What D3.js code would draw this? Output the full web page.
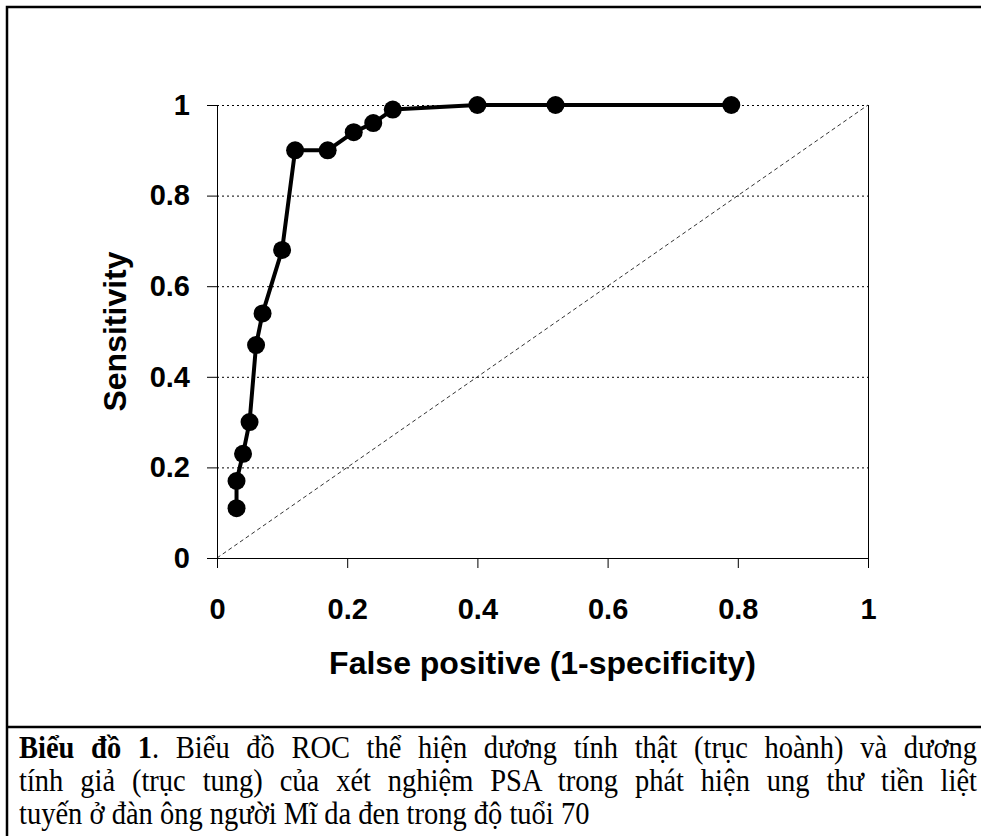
<!DOCTYPE html>
<html>
<head>
<meta charset="utf-8">
<script src="https://cdn.jsdelivr.net/npm/d3@7"></script>
<style>
  body { margin: 0; background: #fff; }
  .axisText { font-family: "Liberation Sans", Arial, sans-serif; font-weight: bold; }
  #caption {
    position: absolute; left: 19px; top: 731px; width: 958px;
    font-family: "Liberation Serif", "Times New Roman", serif;
    font-size: 28.5px; line-height: 29px; color: #000;
    transform: scale(1, 1.14); transform-origin: 0 0;
  }
  #caption div.just { text-align: justify; text-align-last: justify; }
</style>
</head>
<body>
<script>
// ROC points
var falsePositive = [0.03, 0.03, 0.04, 0.05, 0.06, 0.07, 0.10, 0.12, 0.17, 0.21, 0.24, 0.27, 0.40, 0.52, 0.79];
var sensitivity = [0.11, 0.17, 0.23, 0.30, 0.47, 0.54, 0.68, 0.90, 0.90, 0.94, 0.96, 0.99, 1.00, 1.00, 1.00];
var tickValues = [0, 0.2, 0.4, 0.6, 0.8, 1];
var xTitle = "False positive (1-specificity)";
var yTitle = "Sensitivity";
var captionLines = [
  "<b>Biểu đồ 1</b>.  Biểu đồ ROC thể hiện dương tính thật (trục hoành) và dương",
  "tính giả (trục tung) của xét nghiệm PSA trong phát hiện ung thư tiền liệt",
  "tuyến ở đàn ông người Mĩ da đen trong độ tuổi 70"
];

var svgWidth = 981;
var svgHeight = 836;
var margin = {top: 105, left: 217};
var width = 868 - 217;
var height = 558 - 105;

var theData = falsePositive.map(function (x, i) {
  return {x: x, y: sensitivity[i]};
});

var svg = d3.select("body")
  .append("svg")
  .attr("width", svgWidth)
  .attr("height", svgHeight)
  .style("position", "absolute")
  .style("left", 0)
  .style("top", 0);

// outer frame and caption separator
svg.append("path")
  .attr("d", "M7,836 V7 H981")
  .attr("fill", "none")
  .attr("stroke", "#000")
  .attr("stroke-width", 2.5);
svg.append("line")
  .attr("x1", 7).attr("x2", 981)
  .attr("y1", 727).attr("y2", 727)
  .attr("stroke", "#000")
  .attr("stroke-width", 2.5);

var chartGroup = svg.append("g")
  .attr("transform", `translate(${margin.left}, ${margin.top})`);

// scales
var xLinearScale = d3.scaleLinear().domain([0, 1]).range([0, width]);
var yLinearScale = d3.scaleLinear().domain([0, 1]).range([height, 0]);

// dotted gridlines
chartGroup.selectAll(".grid")
  .data(tickValues.slice(1))
  .enter()
  .append("line")
  .attr("x1", 0)
  .attr("x2", width)
  .attr("y1", d => yLinearScale(d) + 0.5)
  .attr("y2", d => yLinearScale(d) + 0.5)
  .attr("stroke", "#000")
  .attr("stroke-width", 1)
  .attr("stroke-dasharray", "2,3");

// right border of plot area
chartGroup.append("line")
  .attr("x1", width + 0.5).attr("x2", width + 0.5)
  .attr("y1", 0).attr("y2", height)
  .attr("stroke", "#000");

// diagonal reference line
chartGroup.append("line")
  .attr("x1", xLinearScale(0)).attr("y1", yLinearScale(0))
  .attr("x2", xLinearScale(1)).attr("y2", yLinearScale(1))
  .attr("stroke", "#333")
  .attr("stroke-width", 1)
  .attr("stroke-dasharray", "4,3");

// axes
var bottomAxis = d3.axisBottom(xLinearScale)
  .tickValues(tickValues)
  .tickFormat(d3.format("~g"))
  .tickSize(10)
  .tickPadding(30)
  .tickSizeOuter(0);
var leftAxis = d3.axisLeft(yLinearScale)
  .tickValues(tickValues)
  .tickFormat(d3.format("~g"))
  .tickSize(10)
  .tickPadding(17)
  .tickSizeOuter(0);

var xAxisG = chartGroup.append("g")
  .attr("transform", `translate(0, ${height})`)
  .call(bottomAxis);
var yAxisG = chartGroup.append("g")
  .call(leftAxis);

[xAxisG, yAxisG].forEach(function (g) {
  g.selectAll("text")
    .attr("class", "axisText")
    .attr("fill", "#000")
    .style("font-size", "29px");
  g.selectAll("line, path").attr("stroke", "#000");
});

// ROC curve
var line = d3.line()
  .x(d => xLinearScale(d.x))
  .y(d => yLinearScale(d.y));

chartGroup.append("path")
  .datum(theData)
  .attr("d", line)
  .attr("fill", "none")
  .attr("stroke", "#000")
  .attr("stroke-width", 4)
  .attr("stroke-linejoin", "round");

chartGroup.selectAll("circle")
  .data(theData)
  .enter()
  .append("circle")
  .attr("cx", d => xLinearScale(d.x))
  .attr("cy", d => yLinearScale(d.y))
  .attr("r", 9)
  .attr("fill", "#000");

// axis labels
chartGroup.append("text")
  .attr("transform", `translate(${-102}, ${height / 2}) rotate(-90)`)
  .attr("class", "axisText")
  .attr("text-anchor", "middle")
  .attr("dy", "0.35em")
  .style("font-size", "32px")
  .text(yTitle);

chartGroup.append("text")
  .attr("transform", `translate(${width / 2}, ${663 - margin.top})`)
  .attr("class", "axisText")
  .attr("text-anchor", "middle")
  .attr("dy", "0.35em")
  .style("font-size", "32px")
  .text(xTitle);

// caption below the chart
var caption = d3.select("body").append("div").attr("id", "caption");
caption.selectAll("div")
  .data(captionLines)
  .enter()
  .append("div")
  .attr("class", (d, i) => i < 2 ? "just" : null)
  .html(d => d);
</script>
</body>
</html>
